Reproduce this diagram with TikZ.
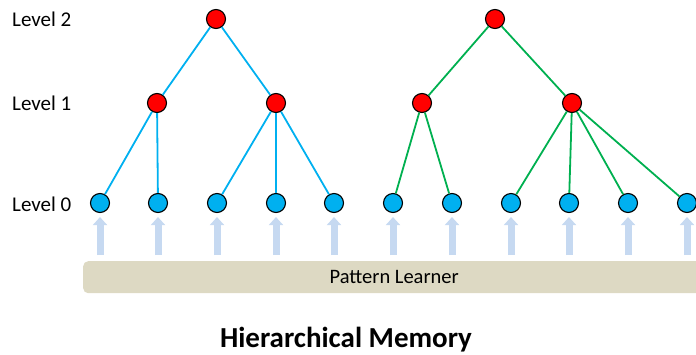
\documentclass[tikz,border=0pt]{standalone}
\usepackage{fontspec}
\setmainfont{Carlito}
\usetikzlibrary{arrows.meta}
\definecolor{cyanl}{HTML}{00B0F0}
\definecolor{greenl}{HTML}{00B050}
\definecolor{redn}{HTML}{FF0000}
\definecolor{arrowc}{HTML}{C6D9F1}
\definecolor{barc}{HTML}{DDD9C3}
\tikzset{
  rnode/.style={circle, draw=black, line width=1.1pt, fill=redn, minimum size=19pt, inner sep=0pt},
  bnode/.style={circle, draw=black, line width=1.1pt, fill=cyanl, minimum size=19pt, inner sep=0pt},
  bedge/.style={draw=cyanl, line width=1.8pt},
  gedge/.style={draw=greenl, line width=1.8pt},
  lvl/.style={anchor=west, font=\fontsize{21}{24}\selectfont, inner sep=0pt},
  uparr/.style={draw=arrowc, line width=7pt, -{Triangle[width=14pt,length=8pt]}, shorten <=6pt, shorten >=4pt},
  barbox/.style={fill=barc, rounded corners=5pt, minimum width=622pt, minimum height=32pt, inner sep=0pt, font=\fontsize{20.5}{24}\selectfont}
}
\begin{document}
\begin{tikzpicture}[x=1pt,y=-1pt]
\useasboundingbox (0,0) rectangle (696,354);
% labels
\node[lvl] (l2) at (12,19) {Level 2};
\node[lvl] (l1) at (12,103) {Level 1};
\node[lvl] (l0) at (12,204) {Level 0};
% bar
\node[barbox, anchor=north west] (bar) at (83,261) {Pattern Learner};
% level 0 nodes
\foreach \i/\x in {1/100,2/158,3/217,4/276,5/334,6/393,7/452,8/511,9/569,10/628,11/687}{
  \node[bnode] (z\i) at (\x,203) {};
  \draw[uparr] (bar.north -| z\i) -- (z\i.south);
}
% level 1 and 2
\node[rnode] (a1) at (157,103) {};
\node[rnode] (a2) at (276,103) {};
\node[rnode] (b1) at (422,103) {};
\node[rnode] (b2) at (572,103) {};
\node[rnode] (ra) at (216,19) {};
\node[rnode] (rb) at (495,19) {};
% edges
\draw[bedge] (ra) -- (a1);
\draw[bedge] (ra) -- (a2);
\draw[bedge] (a1) -- (z1);
\draw[bedge] (a1) -- (z2);
\draw[bedge] (a2) -- (z3);
\draw[bedge] (a2) -- (z4);
\draw[bedge] (a2) -- (z5);
\draw[gedge] (rb) -- (b1);
\draw[gedge] (rb) -- (b2);
\draw[gedge] (b1) -- (z6);
\draw[gedge] (b1) -- (z7);
\draw[gedge] (b2) -- (z8);
\draw[gedge] (b2) -- (z9);
\draw[gedge] (b2) -- (z10);
\draw[gedge] (b2) -- (z11);
% title
\node[font=\fontsize{29}{34}\bfseries\selectfont, inner sep=0pt] (title) at (346,340) {Hierarchical Memory};
\end{tikzpicture}
\end{document}
